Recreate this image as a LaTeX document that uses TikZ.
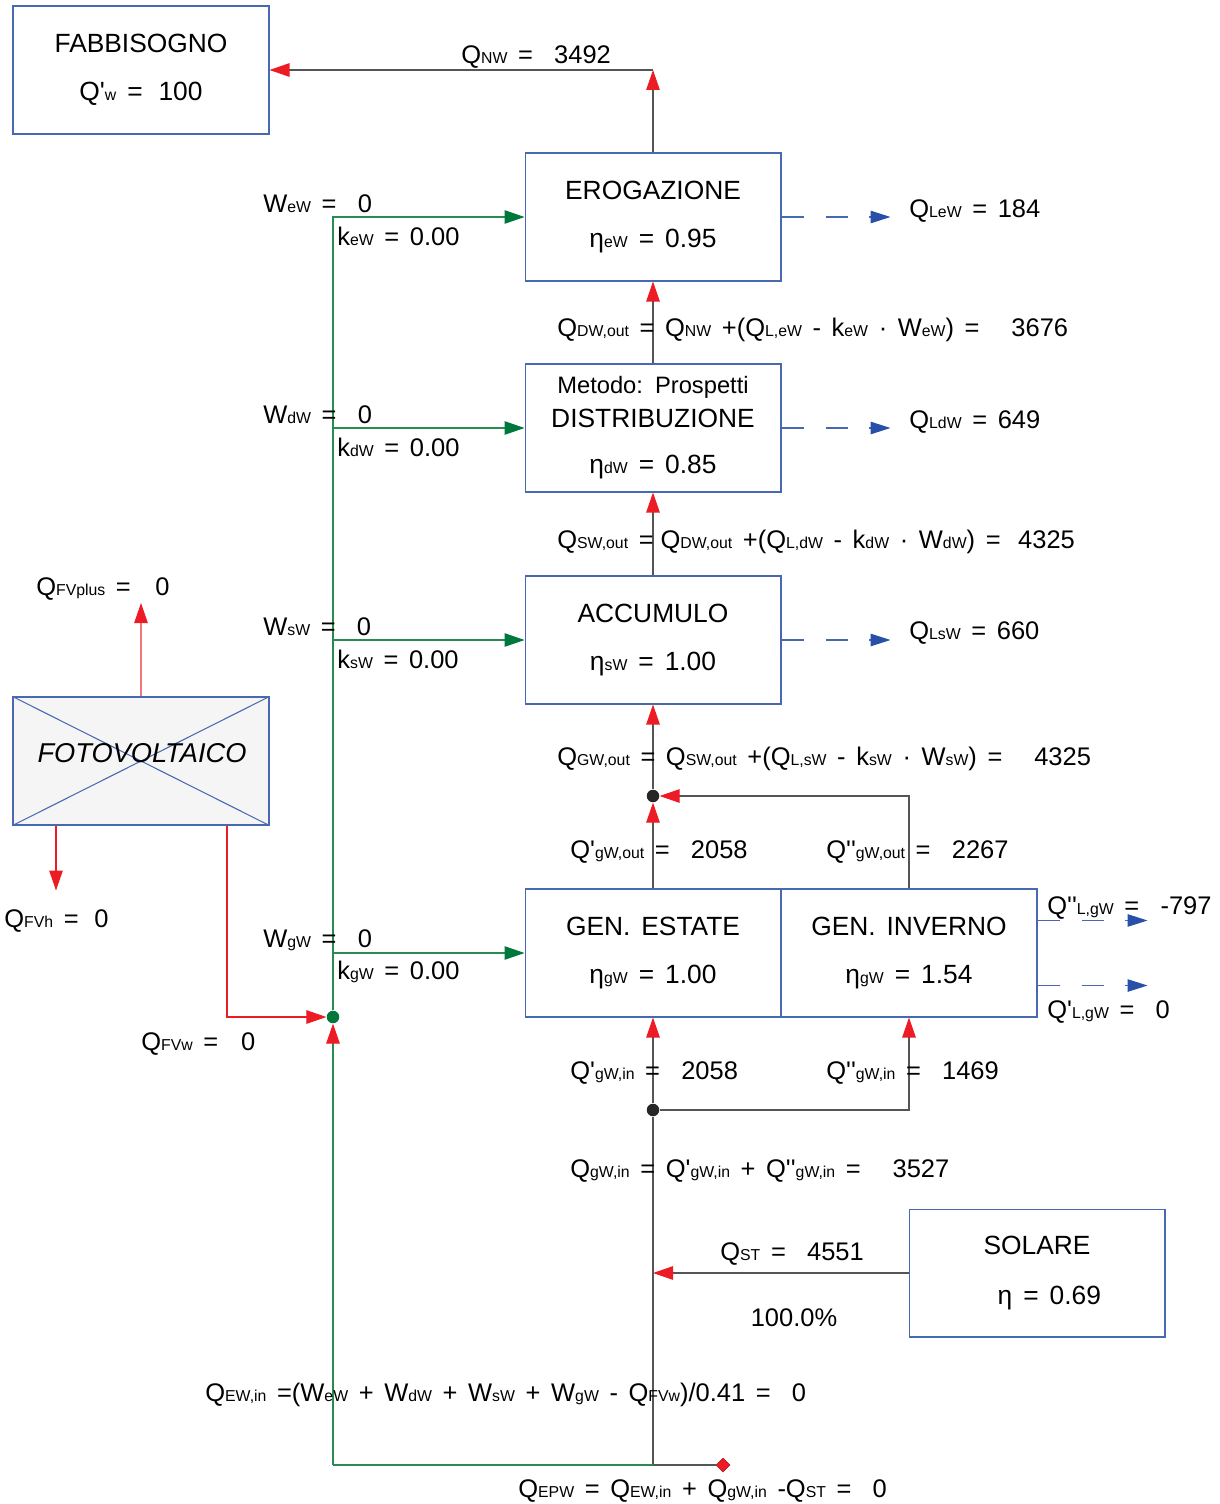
\documentclass[tikz,border=0pt]{standalone}
\usepackage{fontspec}
\setmainfont{Liberation Sans}[Ligatures=TeXOff, WordSpace=1.5]
\usetikzlibrary{positioning, arrows.meta, shapes.geometric, calc}

\definecolor{boxblue}{RGB}{72,104,178}
\definecolor{tipblue}{RGB}{40,80,170}
\definecolor{arrred}{RGB}{237,28,36}
\definecolor{fvred}{RGB}{240,120,120}
\definecolor{linegray}{RGB}{85,85,85}
\definecolor{wgreen}{RGB}{40,140,80}
\definecolor{tipgreen}{RGB}{0,120,60}

\newcommand{\lo}[1]{{\fontsize{9}{10}\selectfont #1}}

\tikzset{
  blk/.style={draw=boxblue, line width=0.6pt, minimum width=5.12cm, minimum height=2.56cm,
    inner sep=0pt, align=center, font=\fontsize{15}{18}\selectfont},
  lbl/.style={anchor=west, inner sep=0pt, font=\fontsize{14.5}{17}\selectfont},
  pipe/.style={draw=linegray, line width=0.6pt},
  rarrow/.style={pipe, -{Triangle[length=0.4cm, width=0.27cm, color=arrred]}},
  garrow/.style={draw=wgreen, line width=0.6pt, -{Triangle[length=0.4cm, width=0.27cm, color=tipgreen]}},
  larrow/.style={draw=boxblue, line width=0.6pt, dash pattern=on 0.44cm off 0.44cm,
    -{Triangle[length=0.4cm, width=0.25cm, color=tipblue]}},
  dot/.style={circle, fill=black!85, minimum size=0.25cm, inner sep=0pt},
}

\begin{document}
\begin{tikzpicture}[x=0.02cm, y=-0.02cm]
    \useasboundingbox (0,0) rectangle (1220,1504);

    % Boxes
    \node[blk] (fab) at (141,70) {FABBISOGNO\\[9.3pt]Q'\lo{w} =\hspace{9pt}100};
    \node[blk] (ero) at (653,217) {EROGAZIONE\\[9.3pt]η\lo{eW} = 0.95};
    \node[blk] (dist) at (653,428) {{\fontsize{13.5}{18}\selectfont Metodo: Prospetti}\\[1.4pt]DISTRIBUZIONE\\[8.2pt]η\lo{dW} = 0.85};
    \node[blk] (acc) at (653,640) {ACCUMULO\\[9.3pt]η\lo{sW} = 1.00};
    \node[blk] (gest) at (653,953) {GEN. ESTATE\\[9.3pt]η\lo{gW} = 1.00};
    \node[blk] (ginv) at (909,953) {GEN. INVERNO\\[9.3pt]η\lo{gW} = 1.54};
    \node[blk] (sol) at (1037,1273) {SOLARE\\[11pt]\hspace{14pt}η = 0.69};
    \node[blk, fill=black!4] (fv) at (141,761) {};
    \draw[boxblue, line width=0.6pt] (fv.north west) -- (fv.south east) (fv.south west) -- (fv.north east);
    \node[font=\fontsize{15.5}{18}\selectfont\itshape] at (142,753) {FOTOVOLTAICO};

    % Junctions
    \node[dot] (jtop) at (653,796) {};
    \node[dot] (jbot) at (653,1110) {};
    \node[dot, fill=tipgreen] (jgreen) at (333,1017) {};
    \node[diamond, fill=arrred, draw=arrred!70!black, line width=0.3pt, minimum size=0.28cm, inner sep=0pt] (epw) at (723,1465) {};
    \coordinate (top) at (653,70);
    \coordinate (bl) at (333,1465);
    \coordinate (bm) at (653,1465);
    \coordinate (fvplus) at (141,603);

    % Main flow
    \draw[rarrow] (ero.north) -- (top);
    \draw[rarrow] (top) -- (fab.east);
    \draw[rarrow] (dist.north) -- (ero.south);
    \draw[rarrow] (acc.north) -- (dist.south);
    \draw[rarrow] (jtop) -- (acc.south);
    \draw[rarrow] (gest.north) -- (jtop);
    \draw[rarrow] (ginv.north) |- (jtop);
    \draw[rarrow] (jbot) -- (gest.south);
    \draw[rarrow] (jbot) -| (ginv.south);
    \draw[pipe] (bm) -- (jbot);
    \draw[rarrow] (sol.west) -- (sol.west -| jbot);
    \draw[pipe] (bm) -- (epw);

    % Auxiliary energy
    \draw[wgreen, line width=0.6pt] (bl) -- (bm);
    \draw[wgreen, line width=0.6pt, -{Triangle[length=0.4cm, width=0.27cm, color=arrred]}] (bl) -- (jgreen);
    \draw[garrow] (jgreen) |- (ero.west);
    \draw[garrow] (jgreen) |- (dist.west);
    \draw[garrow] (jgreen) |- (acc.west);
    \draw[garrow] (jgreen) |- (gest.west);

    % Photovoltaic
    \draw[draw=fvred, line width=0.6pt, -{Triangle[length=0.4cm, width=0.27cm, color=arrred]}] (fv.north) -- (fvplus);
    \draw[draw=arrred, line width=0.6pt, -{Triangle[length=0.4cm, width=0.27cm, color=arrred]}] (fv.south) ++(-85,0) -- ++(0,65);
    \draw[draw=arrred, line width=0.6pt, -{Triangle[length=0.4cm, width=0.27cm, color=arrred]}] (fv.south) ++(86,0) |- (jgreen);

    % Losses
    \draw[larrow] (ero.east) -- ++(109,0);
    \draw[larrow] (dist.east) -- ++(109,0);
    \draw[larrow] (acc.east) -- ++(109,0);
    \draw[larrow] (ginv.north east) ++(0,32) -- ++(110,0);
    \draw[larrow] (ginv.south east) ++(0,-32) -- ++(110,0);

    % Labels
    \node[lbl] at (461,57) {Q\lo{NW} =~~3492};
    \node[lbl] at (263,204) {W\lo{eW} =~~0};
    \node[lbl] at (337,236) {k\lo{eW} = 0.00};
    \node[lbl] at (263,415) {W\lo{dW} =~~0};
    \node[lbl] at (337,447) {k\lo{dW} = 0.00};
    \node[lbl] at (263,627) {W\lo{sW} =~~0};
    \node[lbl] at (337,659) {k\lo{sW} = 0.00};
    \node[lbl] at (263,940) {W\lo{gW} =~~0};
    \node[lbl] at (337,972) {k\lo{gW} = 0.00};

    \node[lbl] at (909,211) {Q\lo{LeW} = 184};
    \node[lbl] at (909,422) {Q\lo{LdW} = 649};
    \node[lbl] at (909,633) {Q\lo{LsW} = 660};
    \node[lbl] at (1047,908) {Q''\lo{L,gW} =~~-797};
    \node[lbl] at (1047,1012) {Q'\lo{L,gW} =~~0};

    \node[lbl] at (557,330) {Q\lo{DW,out} = Q\lo{NW} +(Q\lo{L,eW} - k\lo{eW} · W\lo{eW}) =~~~3676};
    \node[lbl] at (557,542) {Q\lo{SW,out} =\hspace{4pt}Q\lo{DW,out} +(Q\lo{L,dW} - k\lo{dW} · W\lo{dW}) =\hspace{10pt}4325};
    \node[lbl] at (557,759) {Q\lo{GW,out} = Q\lo{SW,out} +(Q\lo{L,sW} - k\lo{sW} · W\lo{sW}) =~~~4325};
    \node[lbl] at (570,852) {Q'\lo{gW,out} =~~2058};
    \node[lbl] at (826,852) {Q''\lo{gW,out} =~~2267};
    \node[lbl] at (570,1073) {Q'\lo{gW,in} =~~2058};
    \node[lbl] at (826,1073) {Q''\lo{gW,in} =~~1469};
    \node[lbl] at (570,1171) {Q\lo{gW,in} = Q'\lo{gW,in} + Q''\lo{gW,in} =~~~3527};
    \node[lbl] at (720,1254) {Q\lo{ST} =~~4551};
    \node[lbl, anchor=center] at (794,1318) {100.0\%};

    \node[lbl] at (36,589) {Q\lo{FVplus} =\hspace{14pt}0};
    \node[lbl] at (4,921) {Q\lo{FVh} =\hspace{9pt}0};
    \node[lbl] at (141,1044) {Q\lo{FVw} =\hspace{13pt}0};

    \node[lbl] at (205,1395) {Q\lo{EW,in} =(W\lo{eW} + W\lo{dW} + W\lo{sW} + W\lo{gW} - Q\lo{FVw})/0.41 =~~0};
    \node[lbl] at (518,1491) {Q\lo{EPW} = Q\lo{EW,in} + Q\lo{gW,in} -Q\lo{ST} =~~0};

\end{tikzpicture}
\end{document}
